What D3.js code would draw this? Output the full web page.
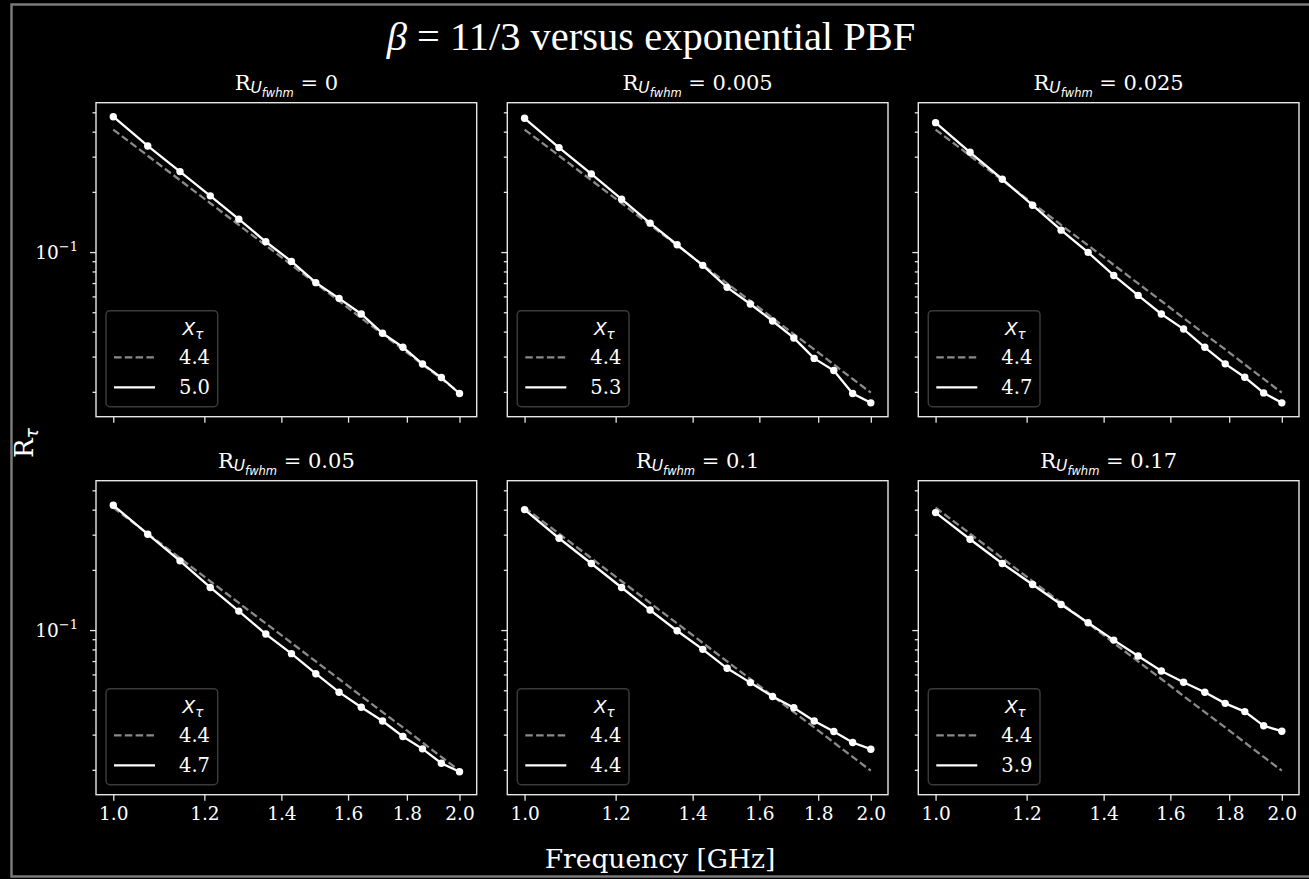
<!DOCTYPE html>
<html><head><meta charset="utf-8">
<script src="https://cdn.jsdelivr.net/npm/d3@7"></script>
<style>body{margin:0;background:#000;overflow:hidden} svg{display:block}</style>
</head><body>
<script>
// ---------------- data ----------------
const freqs = [1.0, 1.0714, 1.1429, 1.2143, 1.2857, 1.3571, 1.4286, 1.5, 1.5714, 1.6429, 1.7143, 1.7857, 1.8571, 1.9286, 2.0];
const panelTitles = ["0", "0.005", "0.025", "0.05", "0.1", "0.17"];
const refValues = [0.410, 0.3033, 0.2288, 0.1755, 0.1367, 0.1080, 0.0863, 0.0697, 0.0569, 0.0468, 0.0389, 0.0326, 0.0274, 0.0232, 0.0198];
const series0 = [0.4754, 0.3394, 0.2526, 0.1911, 0.1461, 0.1126, 0.0898, 0.0703, 0.0587, 0.0490, 0.03925, 0.03341, 0.02758, 0.02358, 0.01962];
const series1 = [0.4666, 0.3330, 0.2460, 0.1838, 0.1395, 0.1088, 0.0858, 0.0666, 0.0550, 0.0452, 0.0372, 0.0294, 0.02555, 0.01962, 0.01762];
const series2 = [0.4438, 0.3155, 0.2313, 0.1716, 0.1287, 0.0996, 0.0764, 0.0607, 0.0490, 0.0412, 0.0334, 0.0276, 0.02366, 0.01976, 0.01762];
const series3 = [0.4207, 0.3015, 0.2219, 0.1633, 0.1244, 0.0955, 0.0762, 0.0605, 0.0489, 0.0411, 0.0351, 0.02935, 0.02546, 0.02159, 0.01955];
const series4 = [0.4003, 0.2879, 0.2152, 0.1633, 0.1259, 0.0992, 0.0801, 0.0644, 0.0546, 0.0465, 0.0409, 0.0351, 0.03108, 0.02738, 0.02537];
const series5 = [0.3869, 0.2846, 0.2152, 0.1690, 0.1343, 0.1088, 0.0891, 0.0742, 0.0624, 0.0548, 0.0489, 0.0430, 0.0391, 0.0332, 0.0312];
const allSeries = [series0, series1, series2, series3, series4, series5];
const refLabel = "4.4";
const fitLabels = ["5.0", "5.3", "4.7", "4.7", "4.4", "3.9"];
const xTicks = [1.0, 1.2, 1.4, 1.6, 1.8, 2.0];
const yMajorTicks = [0.1];
const yMinorTicks = [0.02, 0.03, 0.04, 0.05, 0.06, 0.07, 0.08, 0.09, 0.2, 0.3, 0.4, 0.5];

// ---------------- layout ----------------
const W = 1309, H = 879;
const colLeft = [96, 507.3, 918.3];
const rowTop = [102.7, 480.7];
const pw = 380.7, ph = 314;
const serif = "'DejaVu Serif', serif";
const sans = "'DejaVu Sans', sans-serif";
const spineCol = "#e6e6e6";
const tickFont = 18.5;

const svg = d3.select("body").append("svg").attr("width", W).attr("height", H);
svg.append("rect").attr("width", W).attr("height", H).attr("fill", "#000");
// outer frame
svg.append("rect").attr("x", 11.5).attr("y", 4.5).attr("width", W + 20).attr("height", 872)
  .attr("fill", "none").attr("stroke", "#7a7a7a").attr("stroke-width", 2.5);

const x = d3.scaleLog().domain([0.966, 2.070]).range([0, pw]);
const y = d3.scaleLog().domain([0.01502, 0.5585]).range([ph, 0]);

// suptitle
const st = svg.append("text").attr("x", 651).attr("y", 50).attr("text-anchor", "middle")
  .attr("fill", "#fff").attr("font-family", "'Liberation Serif', 'Times New Roman', serif").attr("font-size", 40.5);
st.append("tspan").attr("font-style", "italic").text("β");
st.append("tspan").text(" = 11/3 versus exponential PBF");

for (let i = 0; i < 6; i++) {
  const r = Math.floor(i / 3), c = i % 3;
  const g = svg.append("g").attr("transform", `translate(${colLeft[c]},${rowTop[r]})`);
  const vals = allSeries[i];

  // axes ticks
  const xAxis = d3.axisBottom(x).tickValues(xTicks).tickSize(6).tickPadding(6)
    .tickFormat(r === 1 ? d3.format(".1f") : () => "");
  const xa = g.append("g").attr("transform", `translate(0,${ph})`).call(xAxis);
  xa.select(".domain").remove();

  const yAxis = d3.axisLeft(y).tickValues(yMajorTicks).tickSize(6).tickFormat(() => "");
  const ya = g.append("g").call(yAxis);
  ya.select(".domain").remove();
  const yMinorAxis = d3.axisLeft(y).tickValues(yMinorTicks).tickSize(3.5).tickFormat(() => "");
  const ym = g.append("g").call(yMinorAxis);
  ym.select(".domain").remove();

  [xa, ya, ym].forEach(a => {
    a.selectAll("line").attr("stroke", spineCol).attr("stroke-width", 1.3);
    a.selectAll("text").attr("fill", "#fff").attr("font-family", serif).attr("font-size", tickFont);
  });

  if (c === 0) {
    const t = g.append("text").attr("x", -18).attr("y", y(0.1) + 7).attr("text-anchor", "end")
      .attr("fill", "#fff").attr("font-family", serif).attr("font-size", tickFont);
    t.append("tspan").text("10");
    t.append("tspan").attr("dy", -8).attr("font-size", 13).text("−1");
  }

  const clipId = "clip" + i;
  g.append("clipPath").attr("id", clipId).append("rect").attr("width", pw).attr("height", ph);
  const plot = g.append("g").attr("clip-path", `url(#${clipId})`);

  const line = d3.line().x((d, k) => x(freqs[k])).y(d => y(d));
  plot.append("path").datum(refValues).attr("d", line).attr("fill", "none")
    .attr("stroke", "#8a8a8a").attr("stroke-width", 2.3).attr("stroke-dasharray", "7.5,3.3");
  plot.append("path").datum(vals).attr("d", line).attr("fill", "none")
    .attr("stroke", "#fff").attr("stroke-width", 2.3);
  plot.selectAll("circle").data(vals).join("circle")
    .attr("cx", (d, k) => x(freqs[k])).attr("cy", d => y(d)).attr("r", 3.7).attr("fill", "#fff");

  // spines
  g.append("rect").attr("width", pw).attr("height", ph).attr("fill", "none")
    .attr("stroke", spineCol).attr("stroke-width", 1.4);

  // panel title
  const pt = g.append("text").attr("x", pw / 2).attr("y", -13).attr("text-anchor", "middle")
    .attr("fill", "#fff").attr("font-family", serif).attr("font-size", 21);
  pt.append("tspan").text("R");
  pt.append("tspan").attr("font-family", sans).attr("font-style", "italic").attr("font-size", 15.5).attr("dy", 3.5).text("U");
  pt.append("tspan").attr("font-family", sans).attr("font-style", "italic").attr("font-size", 11.5).attr("dy", 3.5).text("fwhm");
  pt.append("tspan").attr("dy", -7).text("  = " + panelTitles[i]);

  // legend
  const lg = g.append("g").attr("transform", `translate(10,${ph - 106})`);
  lg.append("rect").attr("width", 111.7).attr("height", 96).attr("rx", 4)
    .attr("fill", "#000").attr("fill-opacity", 0.85).attr("stroke", "#3a3a3a").attr("stroke-width", 1.5);
  const lt = lg.append("text").attr("x", 87).attr("y", 24).attr("text-anchor", "middle")
    .attr("fill", "#fff").attr("font-family", sans).attr("font-style", "italic").attr("font-size", 18.5);
  lt.append("tspan").text("X");
  lt.append("tspan").attr("font-size", 13.5).attr("dy", 4).text("τ");
  lg.append("line").attr("x1", 8).attr("x2", 49).attr("y1", 46.7).attr("y2", 46.7)
    .attr("stroke", "#8a8a8a").attr("stroke-width", 2.3).attr("stroke-dasharray", "7.5,3.3");
  lg.append("text").attr("x", 73).attr("y", 53.5).attr("fill", "#fff").attr("font-family", serif)
    .attr("font-size", 19.5).text(refLabel);
  lg.append("line").attr("x1", 8).attr("x2", 49).attr("y1", 76.7).attr("y2", 76.7)
    .attr("stroke", "#fff").attr("stroke-width", 2.3);
  lg.append("text").attr("x", 73).attr("y", 83.5).attr("fill", "#fff").attr("font-family", serif)
    .attr("font-size", 19.5).text(fitLabels[i]);
}

// axis labels
svg.append("text").attr("x", 660).attr("y", 868).attr("text-anchor", "middle").attr("fill", "#fff")
  .attr("font-family", serif).attr("font-size", 26.5).text("Frequency [GHz]");
const yl = svg.append("text").attr("transform", "translate(33,443) rotate(-90)").attr("text-anchor", "middle")
  .attr("fill", "#fff").attr("font-family", serif).attr("font-size", 26);
yl.append("tspan").text("R");
yl.append("tspan").attr("font-size", 17.5).attr("dy", 5).attr("font-family", sans).attr("font-style", "italic").text("τ");
</script>
</body></html>
